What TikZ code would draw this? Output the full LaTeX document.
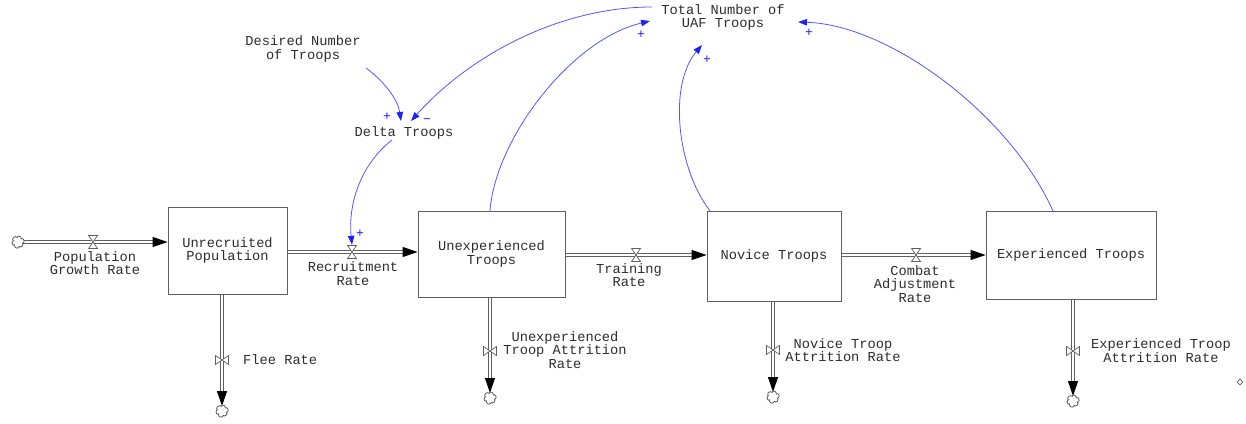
\documentclass[tikz,border=0pt]{standalone}
\usepackage{fontspec}
\newfontfamily\vfont{Liberation Mono}
\usetikzlibrary{arrows.meta,shapes.geometric,backgrounds}
\definecolor{linkblue}{RGB}{85,85,255}
\definecolor{signblue}{RGB}{30,30,255}
\definecolor{ink}{RGB}{45,45,45}
\definecolor{frame}{RGB}{95,95,95}
\begin{document}
\begin{tikzpicture}[x=1pt,y=-1pt,
  every node/.style={font=\vfont\fontsize{13.7}{13.6}\selectfont, text=ink, inner sep=1pt, align=center},
  stock/.style={draw=frame, line width=0.9pt, fill=white},
  pipe/.style={draw=frame, line width=1pt, double=white, double distance=2pt},
  flowtip/.style={-{Triangle[length=15pt,width=10pt,color=black]}},
  valveh/.style={inner sep=0pt, minimum width=10pt, minimum height=14pt,
    path picture={\draw[frame, line width=0.7pt, fill=white]
      ([shift={(0.5pt,-0.5pt)}]path picture bounding box.north west) --
      ([shift={(-0.5pt,-0.5pt)}]path picture bounding box.north east) --
      ([shift={(0.5pt,0.5pt)}]path picture bounding box.south west) --
      ([shift={(-0.5pt,0.5pt)}]path picture bounding box.south east) -- cycle;}},
  valvev/.style={inner sep=0pt, minimum width=14pt, minimum height=10pt,
    path picture={\draw[frame, line width=0.7pt, fill=white]
      ([shift={(0.5pt,-0.5pt)}]path picture bounding box.north west) --
      ([shift={(0.5pt,0.5pt)}]path picture bounding box.south west) --
      ([shift={(-0.5pt,-0.5pt)}]path picture bounding box.north east) --
      ([shift={(-0.5pt,0.5pt)}]path picture bounding box.south east) -- cycle;}},
  % small puffy cloud: ring of circles with the inner strokes covered
  cloudy/.style={inner sep=0pt, minimum width=15pt, minimum height=14pt,
    path picture={
      \foreach \a/\r in {15/2.7pt,75/2.4pt,135/2.8pt,195/2.5pt,255/2.7pt,315/2.4pt}
        \draw[frame, line width=0.8pt, fill=white]
          ([shift={(\a:3.6pt)}]path picture bounding box.center) circle (\r);
      \fill[white] (path picture bounding box.center) circle (4.3pt);}},
  link/.style={draw=linkblue, line width=0.8pt,
    -{Triangle[length=9pt,width=6.5pt,color=signblue]}},
  pol/.style={text=signblue, font=\vfont\fontsize{13}{13}\selectfont, inner sep=0pt}
]
\useasboundingbox (0,0) rectangle (1246,423);

% stocks
\node[stock, minimum width=119pt, minimum height=87pt] (unrec) at (227.5,250.5) {Unrecruited\\Population};
\node[stock, minimum width=147pt, minimum height=86pt] (unexp) at (491.5,254) {Unexperienced\\Troops};
\node[stock, minimum width=134pt, minimum height=90pt] (novice) at (774,256) {Novice Troops};
\node[stock, minimum width=170pt, minimum height=88pt] (exper) at (1071,255) {Experienced Troops};

% valves on the flows
\node[valveh] (vgrow) at (93,242) {};
\node[valveh] (vrec) at (352,252) {};
\node[valveh] (vtrain) at (636,255) {};
\node[valveh] (vcomb) at (916,255) {};
\node[valvev] (vflee) at (222,360) {};
\node[valvev] (vuattr) at (490,351) {};
\node[valvev] (vnattr) at (773,350) {};
\node[valvev] (veattr) at (1073,351) {};

% sources and sinks
\node[cloudy] (csrc) at (18,242) {};
\node[cloudy] (cflee) at (222,411) {};
\node[cloudy] (cuattr) at (490,398) {};
\node[cloudy] (cnattr) at (773,397) {};
\node[cloudy] (ceattr) at (1073,401) {};

% flow labels
\node (lgrow) at (95,263) {Population\\Growth Rate};
\node (lrec) at (353,273.5) {Recruitment\\Rate};
\node (ltrain) at (629,275) {Training\\Rate};
\node (lcomb) at (915,284) {Combat\\Adjustment\\Rate};
\node[anchor=west] (lflee) at (242,360) {Flee Rate};
\node (luattr) at (565,350) {Unexperienced\\Troop Attrition\\Rate};
\node (lnattr) at (843,350) {Novice Troop\\Attrition Rate};
\node (leattr) at (1161,350.5) {Experienced Troop\\Attrition Rate};

% auxiliaries
\node (desired) at (303,49) {Desired Number\\of Troops};
\node (delta) at (404,133) {Delta Troops};
\node (total) at (723,17.5) {Total Number of\\UAF Troops};

% pipes
\begin{scope}[on background layer]
\draw[pipe, flowtip] ([xshift=5pt]csrc.center) -- (unrec.west |- vgrow);
\draw[pipe, flowtip] (unrec.east |- vrec) -- (unexp.west |- vrec);
\draw[pipe, flowtip] (unexp.east |- vtrain) -- (novice.west |- vtrain);
\draw[pipe, flowtip] (novice.east |- vcomb) -- (exper.west |- vcomb);
\draw[pipe, flowtip] (unrec.south -| vflee) -- ([yshift=5pt]cflee.center);
\draw[pipe, flowtip] (unexp.south -| vuattr) -- ([yshift=5pt]cuattr.center);
\draw[pipe, flowtip] (novice.south -| vnattr) -- ([yshift=5pt]cnattr.center);
\draw[pipe, flowtip] (exper.south -| veattr) -- ([yshift=5pt]ceattr.center);
\end{scope}

% causal links
\draw[link] ([shift={(63,19)}]desired.center) .. controls (385,82) and (398,100) .. ([shift={(-3,-12)}]delta.center);
\draw[link] ([shift={(-71,-10.5)}]total.center) .. controls (560,7) and (470,55) .. ([shift={(7,-12)}]delta.center);
\draw[link] ([shift={(-12,7)}]delta.center) .. controls (360,165) and (348,205) .. (vrec.north);
\draw[link] ([shift={(-1.5,-43)}]unexp.center) .. controls (495,140) and (570,40) .. ([shift={(-73,3.5)}]total.center);
\draw[link] ([shift={(-64,-45)}]novice.center) .. controls (677,168) and (668,85) .. ([shift={(-21,27.5)}]total.center);
\draw[link] ([shift={(-18,-44)}]exper.center) .. controls (1010,115) and (890,25) .. ([shift={(75,4.5)}]total.center);

% link polarities
\node[pol] (s1) at (387,117) {+};
\node[pol] (s2) at (427,121) {−};
\node[pol] (s3) at (360,234) {+};
\node[pol] (s4) at (641,35) {+};
\node[pol] (s5) at (707,60) {+};
\node[pol] (s6) at (809,33) {+};

% stray marker
\node[diamond, draw=frame, line width=0.6pt, minimum size=6pt, inner sep=0pt] (dmd) at (1240,382) {};
\end{tikzpicture}
\end{document}
